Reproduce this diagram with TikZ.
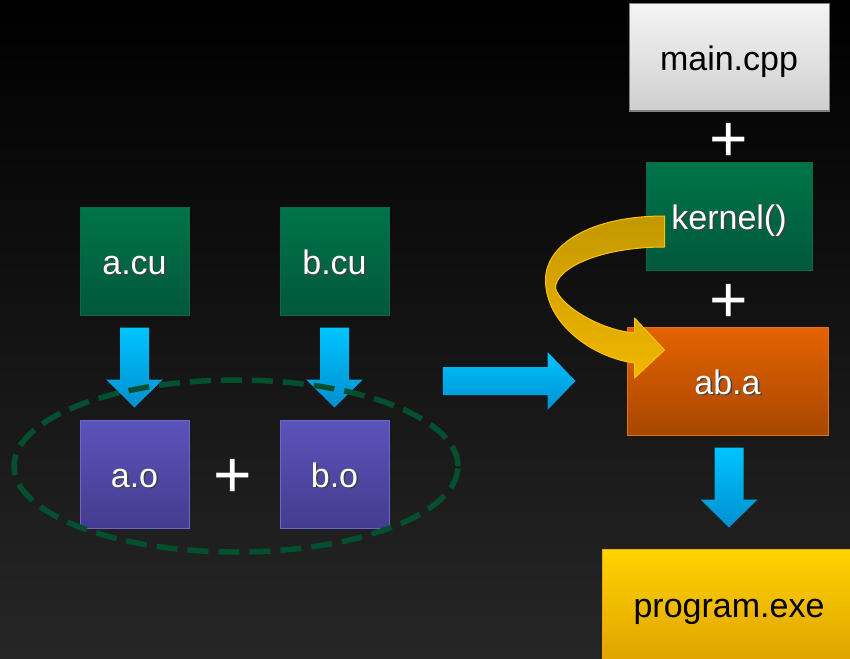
\documentclass[tikz,border=0pt]{standalone}
\usepackage{fontspec}
\setmainfont{Liberation Sans}
\usetikzlibrary{calc,shapes.geometric}

\definecolor{bgbot}{HTML}{262626}
\definecolor{grtop}{HTML}{00744B}
\definecolor{grbot}{HTML}{00583A}
\definecolor{grline}{HTML}{0A6A45}
\definecolor{putop}{HTML}{5C53BA}
\definecolor{pubot}{HTML}{443C8F}
\definecolor{puline}{HTML}{6E66C8}
\definecolor{ortop}{HTML}{E46300}
\definecolor{orbot}{HTML}{A84700}
\definecolor{orline}{HTML}{E2731A}
\definecolor{gytop}{HTML}{F4F4F4}
\definecolor{gybot}{HTML}{CFCFCF}
\definecolor{gyline}{HTML}{7F7F7F}
\definecolor{yetop}{HTML}{FFD400}
\definecolor{yebot}{HTML}{E0A300}
\definecolor{yeline}{HTML}{F0A800}
\definecolor{cytop}{HTML}{00C4FF}
\definecolor{cybot}{HTML}{008FD0}
\definecolor{ringcol}{HTML}{02502F}
\definecolor{cvtop}{HTML}{C29800}
\definecolor{cvbot}{HTML}{F2B700}
\definecolor{cvline}{HTML}{FFC400}

% white label with a soft dark drop shadow
\newcommand{\shadowed}[1]{\rlap{\hspace{1.5pt}\raisebox{-1.5pt}{\color{black!75}#1}}#1}

\tikzset{
  filebox/.style={draw, line width=1pt, inner sep=0pt,
    font=\fontsize{34}{40}\selectfont, text=white,
    text height=26pt, text depth=0pt},
  greenbox/.style={filebox, top color=grtop, bottom color=grbot, draw=grline},
  objbox/.style={filebox, top color=putop, bottom color=pubot, draw=puline,
    minimum width=109pt, minimum height=108pt},
  plussign/.style={inner sep=0pt, text=white, font=\fontsize{66}{66}\selectfont},
  bluearrow/.style={top color=cytop, bottom color=cybot, draw=none},
}

% downward block arrow: #1 = tail point, #2 = tip point
\newcommand{\downblock}[2]{%
  \shade[bluearrow]
    ($(#1)+(-14.5,0)$) -- ($(#1)+(14.5,0)$) -- ($(#2)+(14.5,-28)$) --
    ($(#2)+(28.5,-28)$) -- (#2) -- ($(#2)+(-28.5,-28)$) --
    ($(#2)+(-14.5,-28)$) -- cycle;}

\begin{document}
\begin{tikzpicture}[x=1pt,y=-1pt]
\useasboundingbox (0,0) rectangle (850,658);
\clip (0,0) rectangle (850,658);

% background
\shade[top color=black, bottom color=bgbot] (0,0) rectangle (850,658);

% source files
\node[greenbox, minimum width=109pt, minimum height=108pt] (acu) at (134.5,261) {\shadowed{a.cu}};
\node[greenbox, minimum width=109pt, minimum height=108pt] (bcu) at (334.5,261) {\shadowed{b.cu}};

% object files
\node[objbox] (ao) at (134.5,474) {\shadowed{a.o}};
\node[objbox] (bo) at (334.5,474) {\shadowed{b.o}};
\node[plussign] (plusab) at (233,478) {+};

% compile arrows
\coordinate (ta) at ($(acu.south)+(0,12)$);
\coordinate (pa) at ($(ao.north)+(0,-12)$);
\coordinate (tb) at ($(bcu.south)+(0,12)$);
\coordinate (pb) at ($(bo.north)+(0,-12)$);
\downblock{ta}{pa}
\downblock{tb}{pb}

% grouping ring round the object files
\node[ellipse, draw=ringcol, line width=5.5pt, dash pattern=on 21pt off 10pt,
      minimum width=444pt, minimum height=172pt, inner sep=0pt] (grp) at (236,466) {};

% right-hand column
\node[filebox, top color=gytop, bottom color=gybot, draw=gyline, text=black,
      minimum width=200pt, minimum height=107pt] (main) at (729,57.5) {main.cpp};
\node[plussign] (plus1) at (729,142) {+};
\node[greenbox, minimum width=166pt, minimum height=108pt] (kernel) at (729,216) {\shadowed{kernel()}};
\node[plussign] (plus2) at (729,303) {+};
\node[filebox, top color=ortop, bottom color=orbot, draw=orline,
      minimum width=201pt, minimum height=108pt] (aba) at (727.5,381) {\shadowed{ab.a}};
\node[filebox, top color=yetop, bottom color=yebot, draw=yeline, text=black,
      minimum width=254pt, minimum height=111pt] (prog) at (729,604.5) {program.exe};

% archive arrow from the object group to ab.a
\coordinate (htail) at ($(grp.east)+(-18,-85)$);
\coordinate (htip) at ($(aba.west)+(-51,0)$);
\shade[bluearrow]
  ($(htail)+(0,-14)$) -- ($(htip)+(-28,-14)$) -- ($(htip)+(-28,-29)$) --
  (htip) -- ($(htip)+(-28,29)$) -- ($(htip)+(-28,14)$) -- ($(htail)+(0,14)$) -- cycle;

% link arrow from ab.a to program.exe
\coordinate (tl) at ($(aba.south)+(1.5,12)$);
\coordinate (pl) at ($(prog.north)+(0,-21)$);
\downblock{tl}{pl}

% curved arrow: kernel() goes into ab.a
\coordinate (cs) at ($(kernel.west)+(19,15.5)$);
\coordinate (ce) at ($(aba.west)+(38,-31)$);
\shade[top color=cvtop, bottom color=cvbot, draw=cvline, line width=1pt, line join=round]
  ($(cs)+(0,-15.5)$) .. controls ($(cs)+(-75,-15.5)$) and ($(cs)+(-119,13.5)$) ..
  ($(cs)+(-119,48.5)$) .. controls ($(ce)+(-119,-25)$) and ($(ce)+(-70,8)$) ..
  ($(ce)+(-30,13)$) -- ($(ce)+(-30,28)$) -- (ce) -- ($(ce)+(-30,-32)$) --
  ($(ce)+(-30,-17)$) .. controls ($(ce)+(-65,-20)$) and ($(ce)+(-105,-45)$) ..
  ($(cs)+(-109,56.5)$) .. controls ($(cs)+(-109,37)$) and ($(cs)+(-65,15.5)$) ..
  ($(cs)+(0,15.5)$) -- cycle;
\end{tikzpicture}
\end{document}
